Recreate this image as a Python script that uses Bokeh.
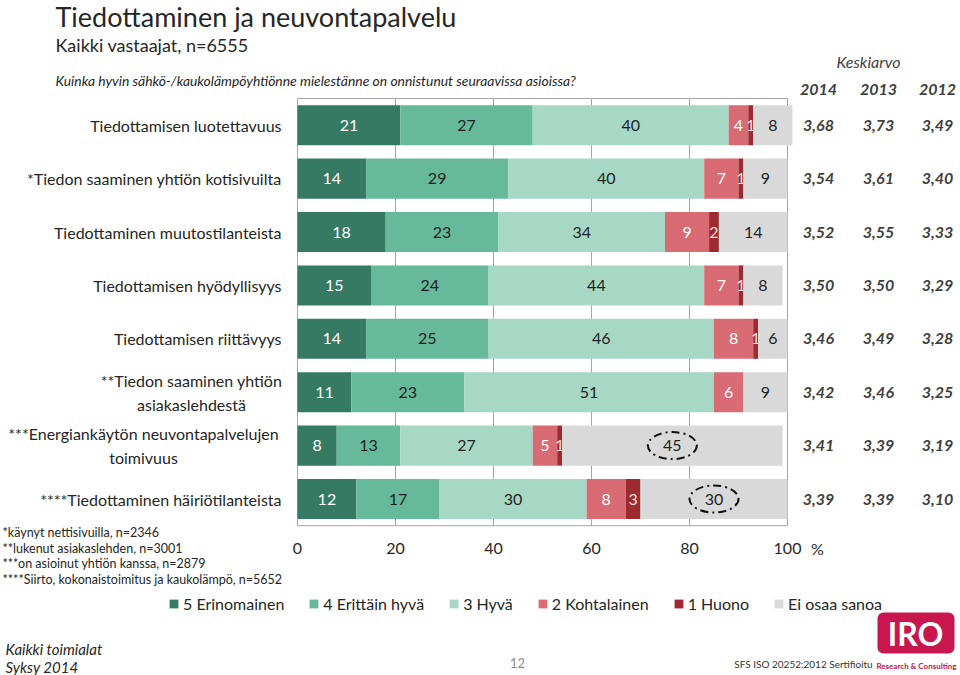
from bokeh.plotting import figure
from bokeh.models import Range1d, ColumnDataSource, Legend, LegendItem, BoxAnnotation, Label
from bokeh.core.properties import value
from bokeh.embed import file_html
from bokeh.resources import INLINE

# ---------------- data ----------------
categories = [
    "Tiedottamisen luotettavuus",
    "*Tiedon saaminen yhtiön kotisivuilta",
    "Tiedottaminen muutostilanteista",
    "Tiedottamisen hyödyllisyys",
    "Tiedottamisen riittävyys",
    "**Tiedon saaminen yhtiön\nasiakaslehdestä",
    "***Energiankäytön neuvontapalvelujen\ntoimivuus",
    "****Tiedottaminen häiriötilanteista",
]
series_names = ["5 Erinomainen", "4 Erittäin hyvä", "3 Hyvä", "2 Kohtalainen", "1 Huono", "Ei osaa sanoa"]
v5 = [21, 14, 18, 15, 14, 11, 8, 12]
v4 = [27, 29, 23, 24, 25, 23, 13, 17]
v3 = [40, 40, 34, 44, 46, 51, 27, 30]
v2 = [4, 7, 9, 7, 8, 6, 5, 8]
v1 = [1, 1, 2, 1, 1, 0, 1, 3]
v0 = [8, 9, 14, 8, 6, 9, 45, 30]
mean_years = ["2014", "2013", "2012"]
mean_2014 = ["3,68", "3,54", "3,52", "3,50", "3,46", "3,42", "3,41", "3,39"]
mean_2013 = ["3,73", "3,61", "3,55", "3,50", "3,49", "3,46", "3,39", "3,39"]
mean_2012 = ["3,49", "3,40", "3,33", "3,29", "3,28", "3,25", "3,19", "3,10"]
highlighted = [False, False, False, False, False, False, True, True]
x_ticks = [0, 20, 40, 60, 80, 100]
footnotes = [
    "*käynyt nettisivuilla, n=2346",
    "**lukenut asiakaslehden, n=3001",
    "***on asioinut yhtiön kanssa, n=2879",
    "****Siirto, kokonaistoimitus ja kaukolämpö, n=5652",
]

# ---------------- style ----------------
colors = ["#377a64", "#66b99b", "#a7d7c5", "#d96b75", "#9d2a31", "#d9d9d9"]
label_colors = ["#ffffff", "#1f1f1f", "#1f1f1f", "#ffffff", "#f4dede", "#1f1f1f"]
FONT = "Lato"
TXT = "#262626"

W, H = 960, 675
PX0, PXS = 297.0, 4.9          # page x of value 0, px per percent
PY0, PYS = 98.0, 53.4          # page y of frame top, px per row


def X(px):
    return (px - PX0) / PXS


def Y(py):
    return (py - PY0) / PYS - 0.5


p = figure(width=W, height=H, output_backend="svg", toolbar_location=None,
           x_range=Range1d(X(0), X(W)), y_range=Range1d(Y(H), Y(0)),
           x_axis_type=None, y_axis_type=None, min_border=0, title=None)
p.outline_line_color = None
p.background_fill_color = "white"


def txt(x, y, s, size, align="left", color=TXT, style="normal", baseline="middle", lh=1.2):
    p.text(x=[x], y=[y], text=[s], text_font=value(FONT), text_font_size=size,
           text_align=align, text_baseline=baseline, text_color=color,
           text_font_style=style, text_line_height=lh)


n = len(categories)
rows = list(range(n))
top_y, bot_y = -0.5, n - 0.5

# gridlines and frame
grid = "#a6a6a6"
p.segment(x0=x_ticks, y0=[top_y] * len(x_ticks), x1=x_ticks, y1=[bot_y] * len(x_ticks),
          line_color=grid, line_width=1)
p.segment(x0=[x_ticks[0], x_ticks[0]], y0=[top_y, bot_y], x1=[x_ticks[-1], x_ticks[-1]],
          y1=[top_y, bot_y], line_color=grid, line_width=1)

# stacked bars
series = [v5, v4, v3, v2, v1, v0]
left = [0.0] * n
renderers = []
for k, vals in enumerate(series):
    right = [l + v for l, v in zip(left, vals)]
    src = ColumnDataSource(dict(y=rows, left=left, right=right,
                                mid=[(l + r) / 2 for l, r in zip(left, right)],
                                lab=[str(v) if v > 0 else "" for v in vals]))
    r = p.hbar(y="y", left="left", right="right", height=0.75, source=src,
               fill_color=colors[k], line_color=None)
    renderers.append(r)
    p.text(x="mid", y="y", text="lab", source=src, text_font=value(FONT),
           text_font_size="16px", text_align="center", text_baseline="middle",
           text_color=label_colors[k])
    left = right

# dash-dot ellipses around highlighted "Ei osaa sanoa" values
hx, hy = [], []
for i in rows:
    if highlighted[i]:
        start = v5[i] + v4[i] + v3[i] + v2[i] + v1[i]
        hx.append(start + v0[i] / 2)
        hy.append(i)
p.ellipse(x=hx, y=hy, width=49, height=27, width_units="screen", height_units="screen",
          fill_color=None, line_color="#111111", line_width=2, line_dash="8 4 2 4")

# category labels
ml_centers = {5: X(191), 6: X(143)}
for i, c in enumerate(categories):
    if "\n" in c:
        txt(ml_centers[i], i, c, "16px", align="center", lh=1.25)
    else:
        txt(X(281), i, c, "16px", align="right")

# x tick labels
txt_y = Y(548)
p.text(x=x_ticks, y=[txt_y] * len(x_ticks), text=[str(t) for t in x_ticks],
       text_font=value(FONT), text_font_size="16px", text_align="center",
       text_baseline="middle", text_color=TXT)
txt(X(817), txt_y, "%", "16px", align="center")

# mean table
col_x = [X(818), X(878), X(937)]
txt(X(868), Y(61), "Keskiarvo", "16px", align="center", color="#404040", style="italic")
for cx, yr in zip(col_x, mean_years):
    txt(cx, Y(89), yr, "16px", align="center", color="#404040", style="bold italic")
for cx, col in zip(col_x, [mean_2014, mean_2013, mean_2012]):
    p.text(x=[cx] * n, y=rows, text=col, text_font=value(FONT), text_font_size="16px",
           text_align="center", text_baseline="middle", text_color="#404040",
           text_font_style="bold italic")

# titles
txt(X(55), Y(16), "Tiedottaminen ja neuvontapalvelu", "27px")
txt(X(55), Y(44), "Kaikki vastaajat, n=6555", "18px")
txt(X(55), Y(80), "Kuinka hyvin sähkö-/kaukolämpöyhtiönne mielestänne on onnistunut seuraavissa asioissa?",
    "13.9px", style="italic")

# footnotes
for j, f in enumerate(footnotes):
    txt(X(2), Y(532 + 15.6 * j), f, "12.5px")

# legend
legend = Legend(items=[LegendItem(label=nm, renderers=[r]) for nm, r in zip(series_names, renderers)],
                orientation="horizontal", location=(168, 62), glyph_width=11, glyph_height=11,
                label_standoff=4, spacing=24, padding=0, margin=0,
                label_text_font=FONT, label_text_font_size="16px", label_text_color=TXT,
                border_line_color=None, background_fill_alpha=0)
p.add_layout(legend)

# bottom texts
txt(X(5), Y(648), "Kaikki toimialat", "15px", style="italic")
txt(X(5), Y(666), "Syksy 2014", "15px", style="italic")
txt(X(517), Y(662), "12", "13px", align="center", color="#8c8c8c")
txt(X(803), Y(663), "SFS ISO 20252:2012 Sertifioitu", "10px", align="center", color="#333333")

# logo
p.add_layout(BoxAnnotation(left=X(877), right=X(954), top=Y(612), bottom=Y(653),
                           fill_color="#c8174e", fill_alpha=1, line_color=None, border_radius=6))
p.add_layout(Label(x=X(915), y=Y(633), text="IRO", text_font=FONT, text_font_size="32px",
                   text_align="center", text_baseline="middle", text_color="#ffffff",
                   text_font_style="bold"))
p.add_layout(Label(x=X(916), y=Y(665), text="Research & Consulting", text_font=FONT,
                   text_font_size="8px", text_align="center", text_baseline="middle",
                   text_color="#c8174e", text_font_style="bold"))

open("out.html", "w").write(file_html(p, INLINE))
